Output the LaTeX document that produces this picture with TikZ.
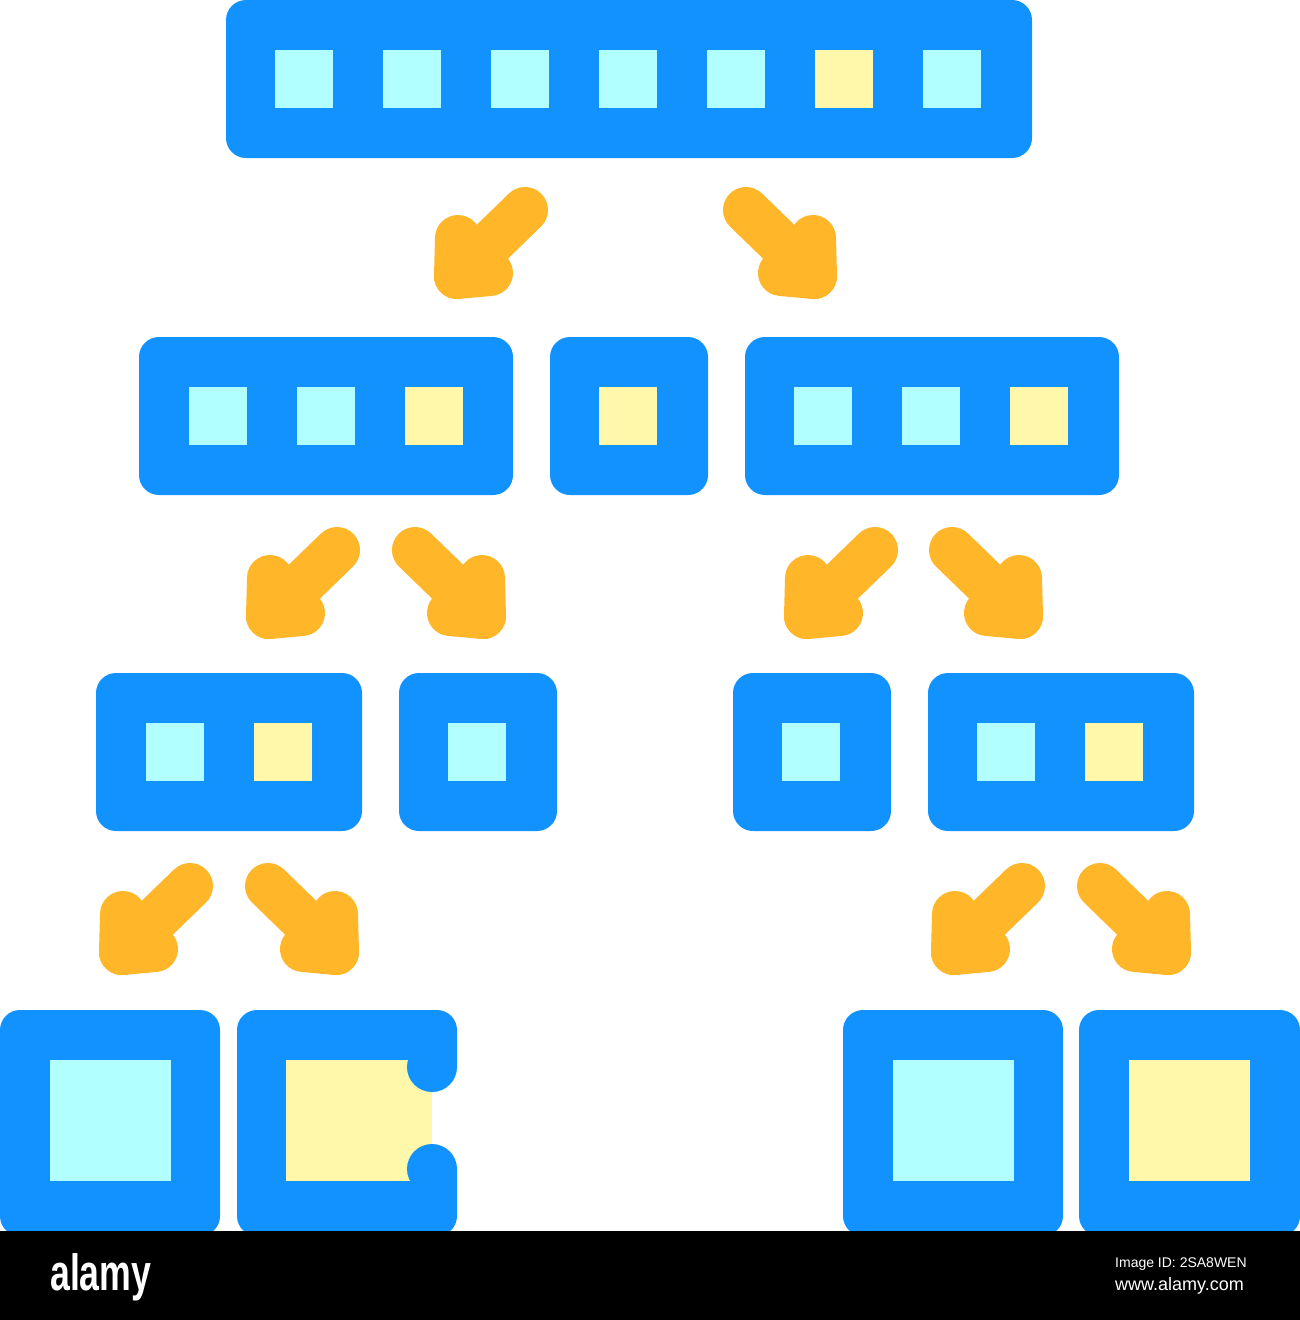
\documentclass[tikz,border=0pt]{standalone}
\usepackage{fontspec}
\newfontfamily\wmfont{Liberation Sans}
\definecolor{bblue}{RGB}{18,146,255}
\definecolor{lcyan}{RGB}{178,255,255}
\definecolor{lyel}{RGB}{255,247,170}
\definecolor{orng}{RGB}{255,182,41}
\tikzset{
  boxfill/.style={fill=bblue, rounded corners=20pt},
  sqc/.style={fill=lcyan},
  sqy/.style={fill=lyel},
  arrline/.style={draw=orng, line width=46pt, line cap=round, line join=round},
  arrowDL/.pic={
    \draw[arrline] (92,24) -- (24,90);
    \draw[arrline] (25,52) -- (24,90) -- (57,87);
  },
  arrowDR/.pic={
    \draw[arrline] (23,24) -- (91,90);
    \draw[arrline] (90,52) -- (91,90) -- (58,87);
  }
}
\begin{document}
\begin{tikzpicture}[x=1pt,y=-1pt]
\useasboundingbox (0,0) rectangle (1300,1320);
\fill[white] (0,0) rectangle (1300,1320);

% ---- top box
\fill[boxfill] (226,0) rectangle (1032,158);
\foreach \k in {0,1,2,3,4,6}{
  \fill[sqc] (275+108*\k,50) rectangle ++(58,58);
}
\fill[sqy] (275+108*5,50) rectangle ++(58,58);

% ---- level 2
\fill[boxfill] (139,337) rectangle (513,495);
\fill[sqc] (189,387) rectangle ++(58,58);
\fill[sqc] (297,387) rectangle ++(58,58);
\fill[sqy] (405,387) rectangle ++(58,58);

\fill[boxfill] (550,337) rectangle (708,495);
\fill[sqy] (599,387) rectangle ++(58,58);

\fill[boxfill] (745,337) rectangle (1119,495);
\fill[sqc] (794,387) rectangle ++(58,58);
\fill[sqc] (902,387) rectangle ++(58,58);
\fill[sqy] (1010,387) rectangle ++(58,58);

% ---- level 3
\fill[boxfill] (96,673) rectangle (362,831);
\fill[sqc] (146,723) rectangle ++(58,58);
\fill[sqy] (254,723) rectangle ++(58,58);

\fill[boxfill] (399,673) rectangle (557,831);
\fill[sqc] (448,723) rectangle ++(58,58);

\fill[boxfill] (733,673) rectangle (891,831);
\fill[sqc] (782,723) rectangle ++(58,58);

\fill[boxfill] (928,673) rectangle (1194,831);
\fill[sqc] (977,723) rectangle ++(58,58);
\fill[sqy] (1085,723) rectangle ++(58,58);

% ---- level 4
\fill[boxfill] (0,1010) rectangle (220,1236);
\fill[sqc] (50,1060) rectangle (171,1181);

\fill[boxfill] (237,1010) rectangle (457,1236);
\fill[sqy] (286,1060) rectangle (432,1181);
\fill[white] (432,1067) rectangle (458,1169);
\fill[sqy] (407,1067) rectangle (432,1169);
\fill[bblue] (432,1067) circle[radius=25];
\fill[bblue] (432,1169) circle[radius=25];

\fill[boxfill] (843,1010) rectangle (1063,1236);
\fill[sqc] (893,1060) rectangle (1014,1181);

\fill[boxfill] (1079,1010) rectangle (1300,1236);
\fill[sqy] (1129,1060) rectangle (1250,1181);

% ---- arrows
\pic at (433,186) {arrowDL};
\pic at (723,186) {arrowDR};
\pic at (245,526) {arrowDL};
\pic at (392,526) {arrowDR};
\pic at (783,526) {arrowDL};
\pic at (929,526) {arrowDR};
\pic at (98,862) {arrowDL};
\pic at (245,862) {arrowDR};
\pic at (930,862) {arrowDL};
\pic at (1077,862) {arrowDR};

% ---- bottom bar
\fill[black] (0,1231) rectangle (1300,1320);
\node[anchor=base west, inner sep=0, text=white, font=\wmfont\fontsize{51}{51}\selectfont\bfseries] (logo) at (50,1290) {\scalebox{0.7}[1]{alamy}};
\node[anchor=base west, inner sep=0, text=white, font=\wmfont\fontsize{14}{14}\selectfont] (imgid) at (1115,1267) {Image ID: 2SA8WEN};
\node[anchor=base west, inner sep=0, text=white, font=\wmfont\fontsize{18}{18}\selectfont] (site) at (1115,1290) {www.alamy.com};
\end{tikzpicture}
\end{document}
